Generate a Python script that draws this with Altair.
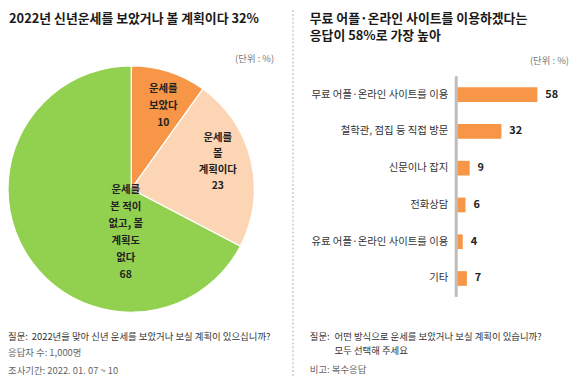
import altair as alt
import pandas as pd

FONT = "Noto Sans CJK KR"

# ---- data ----
pie_keys = ["보았다", "볼 계획", "없다"]
pie_values = [10, 23, 68]
pie_label_lines = [
    ["운세를", "보았다"],
    ["운세를", "볼", "계획이다"],
    ["운세를", "본 적이", "없고, 볼", "계획도", "없다"],
]
pie_colors = ["#F79646", "#FCD5B5", "#92D050"]

bar_cats = [
    "무료 어플·온라인 사이트를 이용",
    "철학관, 점집 등 직접 방문",
    "신문이나 잡지",
    "전화상담",
    "유료 어플·온라인 사이트를 이용",
    "기타",
]
bar_values = [58, 32, 9, 6, 4, 7]

left_title = "2022년 신년운세를 보았거나 볼 계획이다 32%"
right_title = ["무료 어플·온라인 사이트를 이용하겠다는", "응답이 58%로 가장 높아"]
unit_text = "(단위 : %)"

pie_df = pd.DataFrame({"key": pie_keys, "value": pie_values, "idx": range(len(pie_keys))})
bar_df = pd.DataFrame({"cat": bar_cats, "value": bar_values})
one = pd.DataFrame({"a": [0]})

W, H = 570, 370


def txt(x, y, text, size, color="#222222", weight="normal", align="left",
        baseline="middle", line_height=None):
    kw = dict(text=text, fontSize=size, color=color, fontWeight=weight, align=align,
              baseline=baseline, font=FONT)
    if line_height is not None:
        kw["lineHeight"] = line_height
    return alt.Chart(one).mark_text(**kw).encode(x=alt.value(x), y=alt.value(y))


layers = []

# divider
layers.append(
    alt.Chart(one).mark_rule(color="#C8C8C8", strokeWidth=1.5, strokeDash=[2, 2]).encode(
        x=alt.value(288), y=alt.value(0), y2=alt.value(H)
    )
)

# pie
pie = alt.Chart(pie_df).mark_arc(outerRadius=124.5, stroke="white", strokeWidth=1.2).encode(
    theta=alt.Theta("value:Q", stack=True),
    color=alt.Color("key:N", scale=alt.Scale(domain=pie_keys, range=pie_colors), legend=None),
    order=alt.Order("idx:Q"),
    x=alt.value(124.5),
    y=alt.value(181),
)
layers.append(pie)

# first-line positions of the slice labels
pie_label_pos = [(157, 80), (212, 129), (119, 182)]
pie_label_lh = [17, 16.3, 17.2]
for (px, py), lh, lines, v in zip(pie_label_pos, pie_label_lh, pie_label_lines, pie_values):
    layers.append(txt(px, py, lines + [str(v)], 10.5, "#222222", "bold", "center", line_height=lh))

# bars
xscale = alt.Scale(domain=[0, 58], range=[454, 535], nice=False, zero=True)
yscale = alt.Scale(domain=bar_cats, range=[67, 290], paddingInner=0.6, paddingOuter=0.3)

bars = alt.Chart(bar_df).mark_bar(color="#F79646").encode(
    x=alt.X("value:Q", scale=xscale, axis=None),
    y=alt.Y("cat:N", scale=yscale, axis=None),
)
layers.append(bars)

vals = alt.Chart(bar_df).mark_text(
    align="left", baseline="middle", dx=8, fontSize=11, fontWeight="bold", color="#222222", font=FONT
).encode(
    x=alt.X("value:Q", scale=xscale, axis=None),
    y=alt.Y("cat:N", scale=yscale, axis=None),
    text="value:Q",
)
layers.append(vals)

cat_labels = alt.Chart(bar_df).mark_text(
    align="right", baseline="middle", fontSize=10.5, color="#333333", font=FONT
).encode(
    x=alt.value(445),
    y=alt.Y("cat:N", scale=yscale, axis=None),
    text="cat:N",
)
layers.append(cat_labels)

# axis line
layers.append(
    alt.Chart(one).mark_rule(color="#BDBDBD", strokeWidth=3).encode(
        x=alt.value(453), y=alt.value(67), y2=alt.value(290)
    )
)

# titles
layers.append(txt(1, 9, left_title, 13, "#1a1a1a", 600))
layers.append(txt(305, 9, right_title, 13, "#1a1a1a", 600, line_height=17.5))
layers.append(txt(269, 50, unit_text, 9.5, "#777777", align="right"))
layers.append(txt(567, 52, unit_text, 9.5, "#777777", align="right"))

# notes left
layers.append(txt(0, 331, "질문:", 9.5, "#333333"))
layers.append(txt(24, 331, "2022년을 맞아 신년 운세를 보았거나 보실 계획이 있으십니까?", 9.5, "#333333"))
layers.append(txt(0, 347, "응답자 수: 1,000명", 9.5, "#666666"))
layers.append(txt(0, 365, "조사기간: 2022. 01. 07 ~ 10", 9.5, "#666666"))

# notes right
layers.append(txt(305, 331, "질문:", 9.5, "#333333"))
layers.append(txt(330, 331, "어떤 방식으로 운세를 보았거나 보실 계획이 있습니까?", 9.5, "#333333"))
layers.append(txt(330, 345, "모두 선택해 주세요", 9.5, "#333333"))
layers.append(txt(305, 364, "비고: 복수응답", 9.5, "#666666"))

chart = alt.layer(*layers).properties(
    width=W, height=H, padding=0, autosize=alt.AutoSizeParams(type="none"),
    background="white",
).configure_view(stroke=None)

chart.save("out.html", embed_options={"renderer": "svg", "actions": False})
